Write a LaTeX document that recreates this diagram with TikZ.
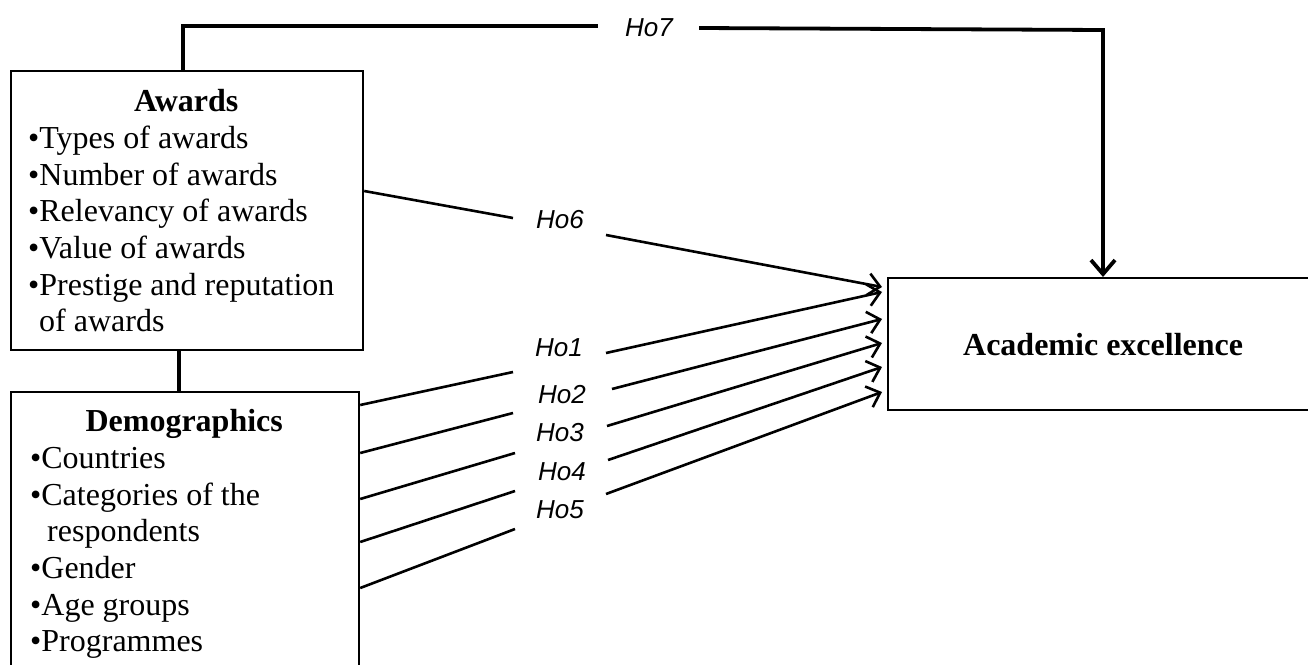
\documentclass[tikz,border=0pt]{standalone}
\usepackage{fontspec}
\setmainfont{Liberation Serif}
\newfontfamily\labfont{Liberation Sans}
\usetikzlibrary{arrows.meta,calc}
\begin{document}
\begin{tikzpicture}[x=1pt,y=-1pt,
  box/.style={draw,line width=2.2pt,inner sep=0pt,anchor=north west},
  boxtext/.style={anchor=north west,inner sep=0pt,align=left,font=\fontsize{32}{36.7}\selectfont},
  hlabel/.style={inner sep=0pt,font=\labfont\itshape\fontsize{26}{30}\selectfont},
  conn/.style={line width=2.6pt},
  arr/.style={line width=2.6pt,-{Straight Barb[length=12pt,width=22pt]}},
  boldline/.style={line width=3.8pt},
  boldarr/.style={line width=3.8pt,-{Straight Barb[length=14pt,width=24pt]}}]
\useasboundingbox (0,0) rectangle (1308,664);

% boxes
\node[box,minimum width=352pt,minimum height=279pt] (awards) at (10,70) {};
\node[box,minimum width=348pt,minimum height=282pt] (dem) at (10,391) {};
\node[box,minimum width=430pt,minimum height=132pt,font=\bfseries\fontsize{32}{38}\selectfont] (acad) at (887,277) {Academic excellence};

% box texts
\node[boxtext] (awardstext) at (28,89.3) {\makebox[316pt][c]{\bfseries Awards}\\
•Types of awards\\
•Number of awards\\
•Relevancy of awards\\
•Value of awards\\
•Prestige and reputation\\
\hspace*{11pt}of awards};
\node[boxtext] (demtext) at (30,409.3) {\makebox[308pt][c]{\bfseries Demographics}\\
•Countries\\
•Categories of the\\
\hspace*{17pt}respondents\\
•Gender\\
•Age groups\\
•Programmes};

% labels
\node[hlabel] (ho7) at (649,28) {Ho7};
\node[hlabel] (ho6) at (560,220) {Ho6};
\node[hlabel] (ho1) at (559,348) {Ho1};
\node[hlabel] (ho2) at (562,395) {Ho2};
\node[hlabel] (ho3) at (560,433) {Ho3};
\node[hlabel] (ho4) at (562,472) {Ho4};
\node[hlabel] (ho5) at (560,510) {Ho5};

% free ends of the broken connectors
\coordinate (h7l) at (598,26);
\coordinate (h7r) at (699,28);
\coordinate (h7c) at (1103,30);
\coordinate (h6l) at (513,218);
\coordinate (h6r) at (606,235);
\coordinate (h1l) at (513,372);
\coordinate (h1r) at (606,353);
\coordinate (h2l) at (513,413);
\coordinate (h2r) at (612,389);
\coordinate (h3l) at (515,453);
\coordinate (h3r) at (607,426);
\coordinate (h4l) at (515,491);
\coordinate (h4r) at (608,460);
\coordinate (h5l) at (515,529);
\coordinate (h5r) at (606,494);

% Ho7
\draw[boldline] ([xshift=-4pt]awards.north) |- (h7l);
\draw[boldarr] (h7r) -- (h7c) -- (h7c |- acad.north);

% awards -- demographics
\draw[boldline] ([xshift=-8pt]awards.south) -- ([xshift=-6pt]dem.north);

% Ho6
\draw[conn] (awards.east |- 0,191) -- (h6l);
\draw[arr] (h6r) -- ([xshift=-5pt]acad.west |- 0,287);

% Ho1 - Ho5
\draw[conn] (dem.east |- 0,405) -- (h1l);
\draw[arr] (h1r) -- ([xshift=-5pt]acad.west |- 0,292);
\draw[conn] (dem.east |- 0,453) -- (h2l);
\draw[arr] (h2r) -- ([xshift=-5pt]acad.west |- 0,319);
\draw[conn] (dem.east |- 0,499) -- (h3l);
\draw[arr] (h3r) -- ([xshift=-5pt]acad.west |- 0,343);
\draw[conn] (dem.east |- 0,542) -- (h4l);
\draw[arr] (h4r) -- ([xshift=-5pt]acad.west |- 0,367);
\draw[conn] (dem.east |- 0,588) -- (h5l);
\draw[arr] (h5r) -- ([xshift=-5pt]acad.west |- 0,392);
\end{tikzpicture}
\end{document}
